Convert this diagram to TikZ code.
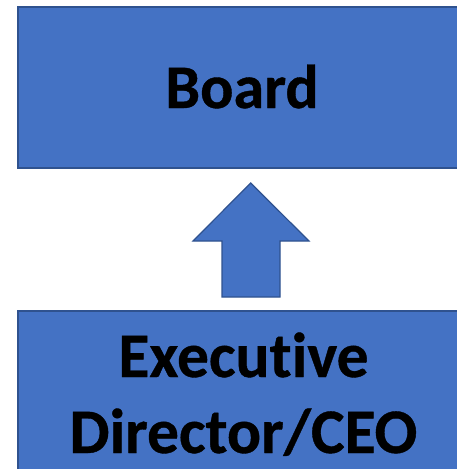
\documentclass[tikz,border=0pt]{standalone}
\usepackage{fontspec}
\setmainfont{Carlito}[Ligatures={NoCommon},BoldFeatures={FakeBold=0.6}]
\begin{document}
\begin{tikzpicture}[x=1pt,y=-1pt,
  blk/.style={fill=boxblue,draw=boxedge,line width=1.6pt},
  lbl/.style={font=\bfseries\fontsize{62}{76}\selectfont,text=black,align=center,inner sep=0pt}]
\definecolor{boxblue}{HTML}{4472C4}
\definecolor{boxedge}{HTML}{2F528F}
\useasboundingbox (0,0) rectangle (457,469);
\clip (0,0) rectangle (457,469);
\draw[blk] (18,7) rectangle (468,168);
\node[lbl,anchor=base] (board) at (242,108) {Board};
\draw[blk] (18,311) rectangle (468,480);
\node[lbl,anchor=base,font=\bfseries\fontsize{63.5}{76}\selectfont] (exec) at (243.5,377) {Executive};
\node[lbl,anchor=base,font=\bfseries\fontsize{63.5}{76}\selectfont] (dir) at (243.5,453) {Director/CEO};
\draw[blk,line width=1.2pt,line join=miter] (250.7,183) -- (309,241) -- (280,241) -- (280,297) -- (222,297) -- (222,241) -- (193,241) -- cycle;
\end{tikzpicture}
\end{document}
